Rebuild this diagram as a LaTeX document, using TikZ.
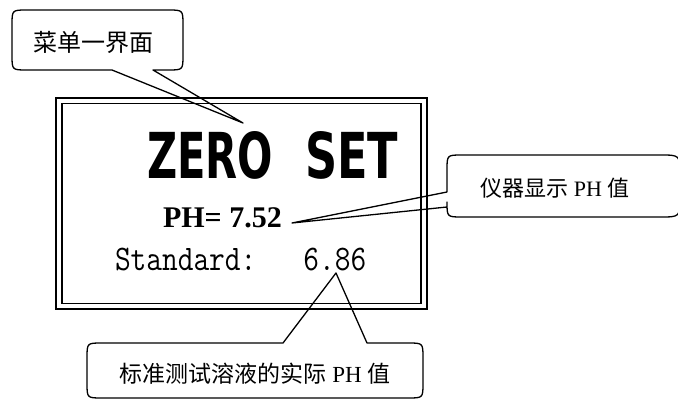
\documentclass[tikz,border=0pt]{standalone}
\usepackage{fontspec}
\setmainfont{Liberation Serif}
\newfontfamily\cjk{Noto Sans CJK SC}
\newfontfamily\zerofont{DejaVu Sans}
\begin{document}
\begin{tikzpicture}[x=1pt,y=-1pt,
  callout/.style={line width=1.3pt, line join=round},
  txt/.style={inner sep=0pt, outer sep=0pt},
  outerframe/.style={line width=2.2pt},
  innerframe/.style={line width=1.3pt}]
\useasboundingbox (0,0) rectangle (678,401);
\clip (0,0) rectangle (678,401);
% frame
\draw[outerframe] (56,98) rectangle (427,309);
\draw[innerframe] (62,103.5) rectangle (421,303.5);
% display texts
\node[txt, anchor=base west] (zero) at (147,179) {\resizebox{126pt}{47pt}{\zerofont\bfseries ZERO}};
\node[txt, anchor=base west] (set) at (305,179) {\resizebox{93pt}{47pt}{\zerofont\bfseries SET}};
\node[txt, anchor=base west] (ph) at (163,228) {\fontsize{30}{30}\selectfont\bfseries PH= 7.52};
\node[txt, anchor=base west] (std) at (115,270) {\fontsize{30.5}{30}\selectfont\ttfamily\scalebox{1}[1.18]{Standard:\ \ \ 6.86}};
% callout tips
\coordinate (tip1) at (243,123);
\coordinate (tip2) at (292,223);
\coordinate (tip3) at (336,273);
% callout 1
\draw[callout] (112,70) -- (27,70) .. controls (12,70) .. (12,55) -- (12,25) .. controls (12,10) .. (27,10)
  -- (168,10) .. controls (183,10) .. (183,25) -- (183,55) .. controls (183,70) .. (168,70) -- (153,70) -- (tip1) -- cycle;
\node[txt] (c1) at (94,42.5) {\fontsize{24}{24}\selectfont\cjk 菜单一界面};
% callout 2
\draw[callout] (447,192) -- (447,170) .. controls (447,155) .. (462,155) -- (660,155) .. controls (680,155) .. (680,175)
  -- (680,197) .. controls (680,217) .. (660,217) -- (462,217) .. controls (447,217) .. (447,202) -- (447,207) -- (tip2) -- cycle;
\node[txt] (c2) at (555,188) {\fontsize{22}{22}\selectfont{\cjk 仪器显示} PH {\cjk 值}};
% callout 3
\draw[callout] (283,343) -- (102,343) .. controls (87,343) .. (87,358) -- (87,383) .. controls (87,398) .. (102,398)
  -- (408,398) .. controls (423,398) .. (423,383) -- (423,358) .. controls (423,343) .. (408,343) -- (367,343) -- (tip3) -- cycle;
\node[txt] (c3) at (255,374) {\fontsize{23}{23}\selectfont{\cjk 标准测试溶液的实际} PH {\cjk 值}};
\end{tikzpicture}
\end{document}
